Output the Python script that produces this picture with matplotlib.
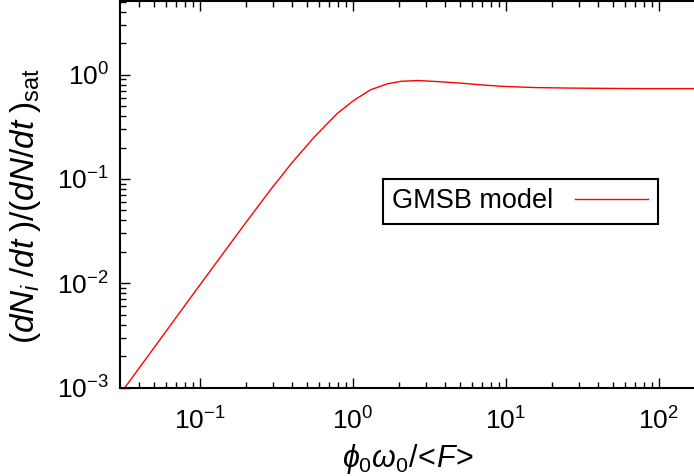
import matplotlib
matplotlib.use("Agg")
import matplotlib.pyplot as plt
from matplotlib.ticker import LogLocator, NullFormatter

plt.rcParams['font.family'] = ['Liberation Sans', 'DejaVu Sans']
plt.rcParams['mathtext.fontset'] = 'custom'
plt.rcParams['mathtext.rm'] = 'Liberation Sans'
plt.rcParams['mathtext.it'] = 'Liberation Sans:italic'
plt.rcParams['mathtext.bf'] = 'Liberation Sans:bold'
plt.rcParams['axes.unicode_minus'] = False

# data
x = [0.03, 0.05, 0.1, 0.2, 0.3, 0.336, 0.4, 0.455, 0.556, 0.67, 0.792, 1.02,
     1.31, 1.69, 2.07, 2.67, 3.6, 5.0, 6.6, 9.4, 15.5, 25, 43, 80, 175]
y = [0.00085, 0.00237, 0.00955, 0.038, 0.0838, 0.103, 0.1426, 0.177, 0.249,
     0.330, 0.425, 0.569, 0.718, 0.818, 0.865, 0.879, 0.859, 0.832, 0.804,
     0.774, 0.753, 0.745, 0.740, 0.736, 0.736]
series_label = "GMSB model"

fig = plt.figure(figsize=(6.94, 4.76), dpi=100)
ax = fig.add_axes([120 / 694, 1 - 387.5 / 476, 1 - 120 / 694 + 0.003, 387.5 / 476 - 0.002])

ax.plot(x, y, color="red", lw=1.0, label=series_label)
ax.set_xscale("log")
ax.set_yscale("log")
ax.set_xlim(0.0302, 175)
ax.set_ylim(1e-3, 5.1)

ax.xaxis.set_major_locator(LogLocator(base=10, numticks=10))
ax.xaxis.set_minor_locator(LogLocator(base=10, subs=range(2, 10), numticks=100))
ax.xaxis.set_minor_formatter(NullFormatter())
ax.yaxis.set_minor_locator(LogLocator(base=10, subs=range(2, 10), numticks=100))
ax.yaxis.set_minor_formatter(NullFormatter())

ax.tick_params(which="both", direction="in", top=True, right=False, labelsize=19, width=1.0)
ax.tick_params(which="major", length=7)
ax.tick_params(which="minor", length=4)
ax.tick_params(axis="x", which="major", pad=14)
ax.tick_params(axis="y", which="major", pad=8)
for s in ax.spines.values():
    s.set_linewidth(1.5)

ax.set_xlabel(r"$\phi_0\omega_0/\!<\!F\!>$", fontsize=22, labelpad=6)
ax.set_ylabel(r"$(dN_i\;/dt\;)/(dN/dt\;)_{\mathrm{sat}}$", fontsize=24)
ax.yaxis.set_label_coords(-0.134, 0.47)

leg = ax.legend(loc="upper left", bbox_to_anchor=((381.7 - 120) / 574, 1 - 178.3 / 387.5),
                borderaxespad=0, fontsize=19.5, frameon=True, fancybox=False,
                framealpha=1, edgecolor="black",
                handlelength=2.7, handletextpad=0.8, borderpad=0.35, markerfirst=False)
leg.get_frame().set_linewidth(1.5)

fig.savefig("out.png", dpi=100)
